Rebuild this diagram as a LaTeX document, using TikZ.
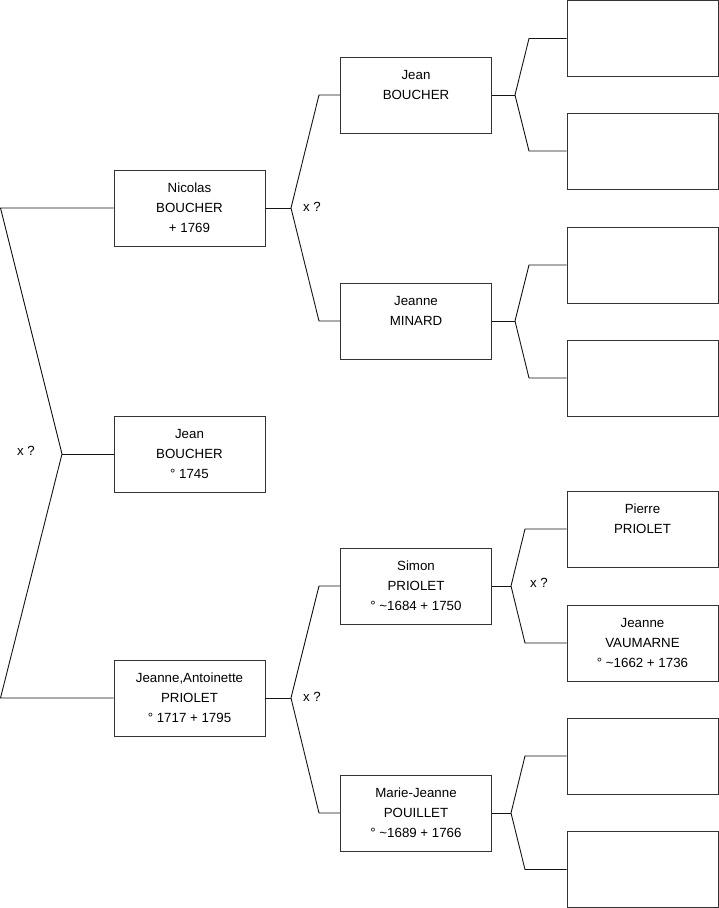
\documentclass[tikz,border=0pt]{standalone}
\usepackage{fontspec}
\setmainfont{Liberation Sans}
\usepackage{xcolor}
\usetikzlibrary{positioning}
\definecolor{ftbox}{RGB}{51,51,51}
\definecolor{ftlink}{RGB}{20,20,20}

\tikzset{
  person/.style={draw=ftbox, line width=0.9pt, fill=white, minimum width=151pt,
    minimum height=76pt, inner sep=0pt, align=center,
    font=\fontsize{13.3}{20}\selectfont},
  link/.style={ftlink, line width=0.9pt},
  unionlbl/.style={font=\fontsize{13.3}{15}\selectfont, inner sep=0pt}
}

\begin{document}
\begin{tikzpicture}[x=1pt, y=-1pt]
\useasboundingbox (0,0) rectangle (719,908);

% ---- generation 1 ----
\node[person] (nicolas) at (189.5,208) {Nicolas\\BOUCHER\\+ 1769};
\node[person] (jean)    at (189.5,454) {Jean\\BOUCHER\\° 1745};
\node[person] (jeanneA) at (189.5,698) {Jeanne,Antoinette\\PRIOLET\\° 1717 + 1795};

% ---- generation 2 ----
\node[person] (jeanB)    at (416,95)  {Jean\\BOUCHER\\\mbox{}};
\node[person] (minard)   at (416,321) {Jeanne\\MINARD\\\mbox{}};
\node[person] (simon)    at (416,586) {Simon\\PRIOLET\\° \textasciitilde1684 + 1750};
\node[person] (pouillet) at (416,813) {Marie-Jeanne\\POUILLET\\° \textasciitilde1689 + 1766};

% ---- generation 3 ----
\node[person] (pierre)   at (642.5,529) {Pierre\\PRIOLET\\\mbox{}};
\node[person] (vaumarne) at (642.5,643) {Jeanne\\VAUMARNE\\° \textasciitilde1662 + 1736};
\foreach \nm/\yy in {g3a/38.5,g3b/151,g3c/265,g3d/378,g3g/756,g3h/869.5}
  \node[person] (\nm) at (642.5,\yy) {};

% ---- left bracket ----
\coordinate (lTop) at (0.5,208);
\coordinate (lMid) at (62,454);
\coordinate (lBot) at (0.5,698);
\draw[link] (nicolas.west) -- (lTop) -- (lMid) -- (lBot) -- (jeanneA.west);
\draw[link] (lMid) -- (jean.west);
\node[unionlbl] (u0) at (26,451) {x ?};

% ---- generation 1 to 2 ----
\foreach \pp/\up/\dn/\yy/\ya/\yb in {nicolas/jeanB/minard/208/95/321,
                                     jeanneA/simon/pouillet/698/586/813}{
  \coordinate (s-\pp) at (291,\yy);
  \coordinate (a-\pp) at (319,\ya);
  \coordinate (b-\pp) at (319,\yb);
  \draw[link] (\pp.east) -- (s-\pp);
  \draw[link] (\up.west) -- (a-\pp) -- (s-\pp) -- (b-\pp) -- (\dn.west);
}
\node[unionlbl] (u1) at (312,207) {x ?};
\node[unionlbl] (u2) at (312,697) {x ?};

% ---- generation 2 to 3 ----
\foreach \pp/\up/\dn/\yy/\ya/\yb/\sx/\cx in {jeanB/g3a/g3b/95/38.5/151/515/529,
    minard/g3c/g3d/321/265/378/515/529,
    simon/pierre/vaumarne/586/529/643/511/525,
    pouillet/g3g/g3h/813/756/869.5/511/525}{
  \coordinate (s-\pp) at (\sx,\yy);
  \coordinate (a-\pp) at (\cx,\ya);
  \coordinate (b-\pp) at (\cx,\yb);
  \draw[link] (\pp.east) -- (s-\pp);
  \draw[link] (\up.west) -- (a-\pp) -- (s-\pp) -- (b-\pp) -- (\dn.west);
}
\node[unionlbl] (u3) at (539,583) {x ?};
\end{tikzpicture}
\end{document}
